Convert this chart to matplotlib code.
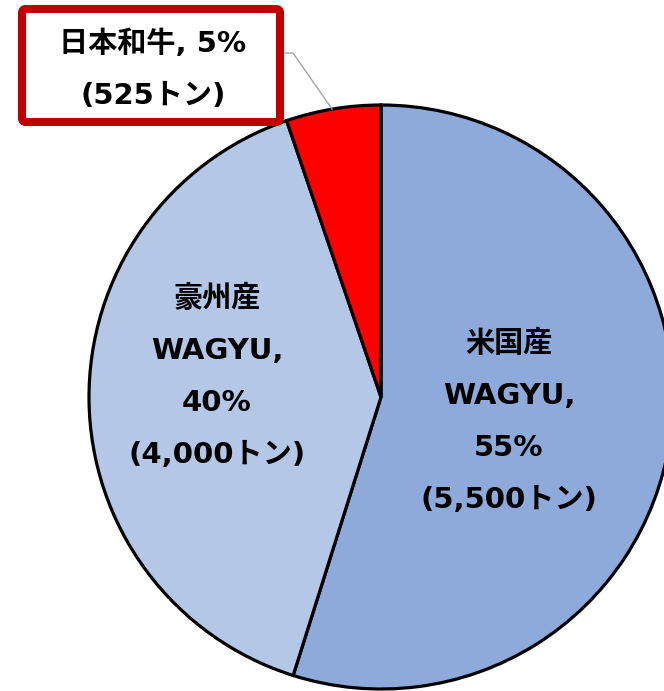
import matplotlib

matplotlib.use("Agg")
import matplotlib.pyplot as plt
from matplotlib.patches import FancyBboxPatch

plt.rcParams["font.family"] = ["DejaVu Sans", "Noto Sans CJK JP"]

# data
regions = ["米国産\nWAGYU", "豪州産\nWAGYU", "日本和牛"]
tonnes = [5500, 4000, 525]
colors = ["#8EAADB", "#B4C7E7", "#FF0000"]

W, H = 664, 691
fig = plt.figure(figsize=(W / 100, H / 100), dpi=100)
ax = fig.add_axes([0, 0, 1, 1])


def py(y):
    # pixel-from-top to data y
    return H - y


cx, cy, r = 381, py(397), 292
ax.pie(
    tonnes,
    colors=colors,
    startangle=90,
    counterclock=False,
    center=(cx, cy),
    radius=r,
    wedgeprops={"edgecolor": "black", "linewidth": 2.3},
    frame=True,
)
ax.set_xlim(0, W)
ax.set_ylim(0, H)
ax.set_aspect("equal")
ax.axis("off")

total = sum(tonnes)
pct = [round(t / total * 100) for t in tonnes]

font = dict(fontsize=21, fontweight="bold", ha="center", va="center",
            linespacing=2.08, color="black")

ax.text(509, py(422), f"{regions[0]},\n{pct[0]}%\n({tonnes[0]:,}トン)", **font)
ax.text(217, py(377), f"{regions[1]},\n{pct[1]}%\n({tonnes[1]:,}トン)", **font)

# callout for the small slice
box = FancyBboxPatch((22, py(122)), 258, 113,
                     boxstyle="round,pad=0,rounding_size=4",
                     facecolor="white", edgecolor="#C00000", linewidth=5.8,
                     zorder=5)
ax.add_patch(box)
ax.plot([285, 293, 332], [py(53), py(53), py(109)], color="#A6A6A6",
        linewidth=1.0, zorder=4)
ax.text(153, py(70), f"{regions[2]}, {pct[2]}%\n({tonnes[2]:,}トン)",
        zorder=6, **font)

fig.savefig("out.png", dpi=100)
